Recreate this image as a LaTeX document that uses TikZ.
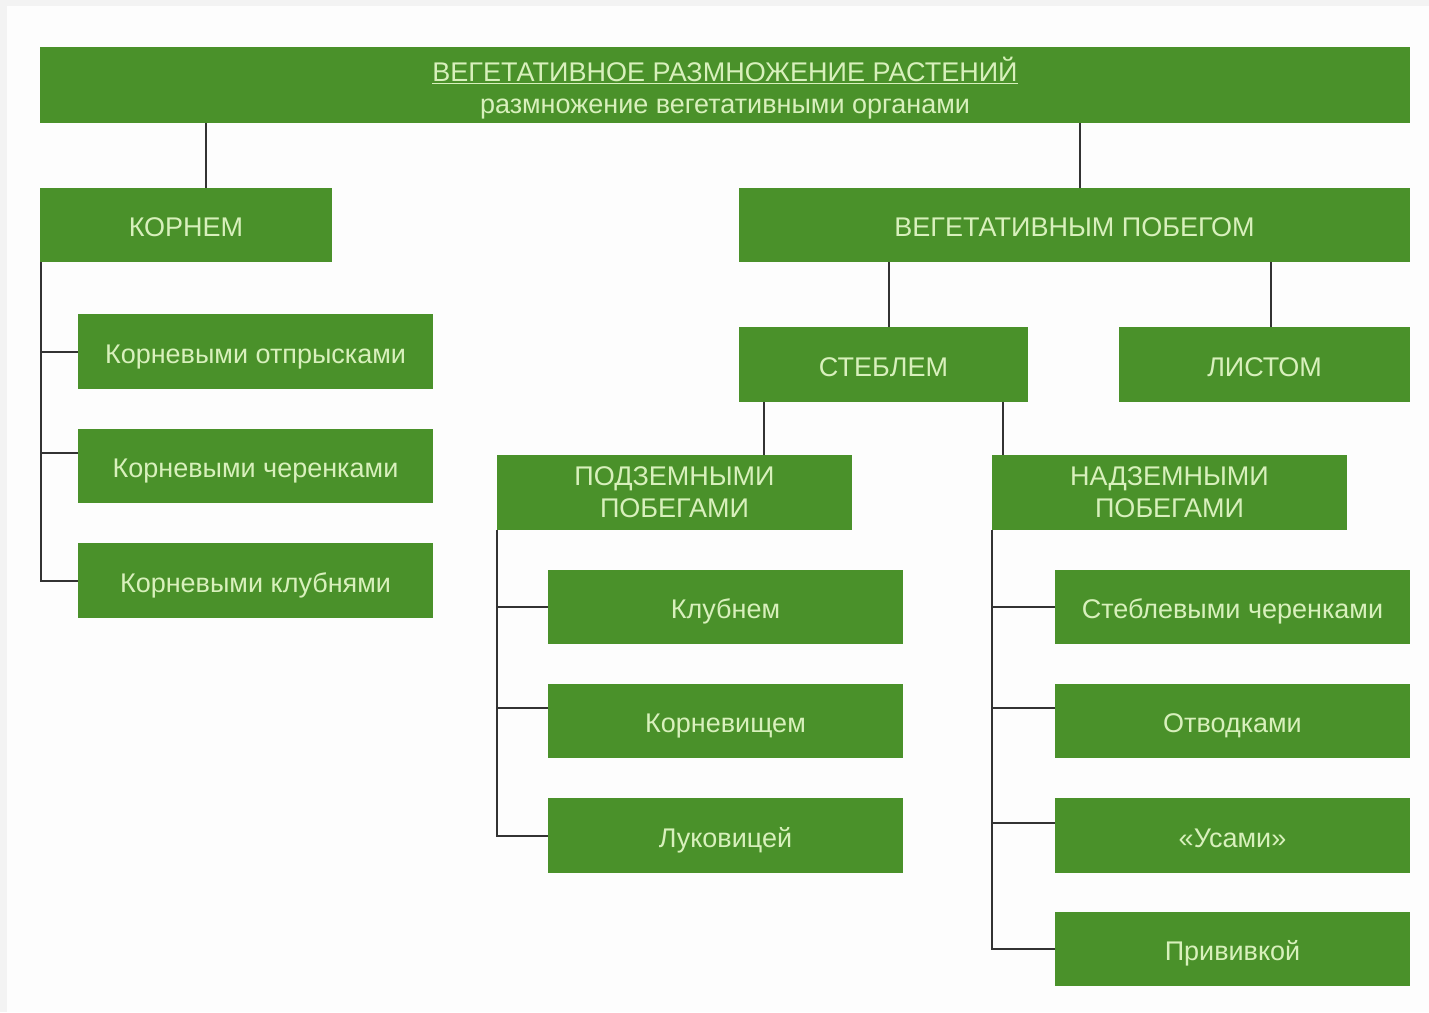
\documentclass[tikz,border=0pt]{standalone}
\usepackage{fontspec}
\setmainfont{Liberation Sans}
\usetikzlibrary{calc}
\definecolor{boxg}{RGB}{74,145,42}
\definecolor{txtg}{RGB}{216,240,188}
\definecolor{linec}{RGB}{51,51,51}
\definecolor{pageg}{RGB}{243,243,243}
\definecolor{innerw}{RGB}{253,253,253}
\begin{document}
\begin{tikzpicture}[x=1pt,y=-1pt,
  gbox/.style={fill=boxg, draw=none, inner sep=0pt, text=txtg,
    font=\fontsize{27}{32}\selectfont, align=center, text depth=0pt},
  oneline/.style={gbox, text height=23pt},
  conn/.style={draw=linec, line width=2pt}]
\fill[pageg] (0,0) rectangle (1429,1012);
\fill[innerw] (7,6) rectangle (1429,1012);
\useasboundingbox (0,0) rectangle (1429,1012);

\node[gbox, minimum width=1370pt, minimum height=76pt] (top) at (725,85)
  {\underline{ВЕГЕТАТИВНОЕ РАЗМНОЖЕНИЕ РАСТЕНИЙ}\\размножение вегетативными органами};
\node[oneline, minimum width=292pt, minimum height=74pt] (korn) at (186,225) {КОРНЕМ};
\node[oneline, minimum width=671pt, minimum height=74pt] (vp) at (1074.5,225) {ВЕГЕТАТИВНЫМ ПОБЕГОМ};
\node[oneline, minimum width=355pt, minimum height=75pt] (k1) at (255.5,351.5) {Корневыми отпрысками};
\node[oneline, minimum width=355pt, minimum height=74pt] (k2) at (255.5,466) {Корневыми черенками};
\node[oneline, minimum width=355pt, minimum height=75pt] (k3) at (255.5,580.5) {Корневыми клубнями};
\node[oneline, minimum width=289pt, minimum height=75pt] (steb) at (883.5,364.5) {СТЕБЛЕМ};
\node[oneline, minimum width=291pt, minimum height=75pt] (list) at (1264.5,364.5) {ЛИСТОМ};
\node[gbox, minimum width=355pt, minimum height=75pt] (podz) at (674.5,492.5) {ПОДЗЕМНЫМИ\\ПОБЕГАМИ};
\node[gbox, minimum width=355pt, minimum height=75pt] (nadz) at (1169.5,492.5) {НАДЗЕМНЫМИ\\ПОБЕГАМИ};
\node[oneline, minimum width=355pt, minimum height=74pt] (p1) at (725.5,607) {Клубнем};
\node[oneline, minimum width=355pt, minimum height=74pt] (p2) at (725.5,721) {Корневищем};
\node[oneline, minimum width=355pt, minimum height=75pt] (p3) at (725.5,835.5) {Луковицей};
\node[oneline, minimum width=355pt, minimum height=74pt] (n1) at (1232.5,607) {Стеблевыми черенками};
\node[oneline, minimum width=355pt, minimum height=74pt] (n2) at (1232.5,721) {Отводками};
\node[oneline, minimum width=355pt, minimum height=75pt] (n3) at (1232.5,835.5) {«Усами»};
\node[oneline, minimum width=355pt, minimum height=74pt] (n4) at (1232.5,949) {Прививкой};

% vertical links
\coordinate (c1) at ($(korn.north)+(20,0)$);
\draw[conn] (c1) -- (c1 |- top.south);
\coordinate (c2) at ($(vp.north)+(5.5,0)$);
\draw[conn] (c2) -- (c2 |- top.south);
\coordinate (c3) at ($(steb.north)+(5.5,0)$);
\draw[conn] (c3) -- (c3 |- vp.south);
\coordinate (c4) at ($(list.north)+(6.5,0)$);
\draw[conn] (c4) -- (c4 |- vp.south);
\coordinate (c5) at ($(podz.north)+(89.5,0)$);
\draw[conn] (c5) -- (c5 |- steb.south);
\coordinate (c6) at ($(nadz.north)+(-166.5,0)$);
\draw[conn] (c6) -- (c6 |- steb.south);

% root tree
\coordinate (kr) at ($(korn.south west)+(1,0)$);
\draw[conn] (kr) -- (kr |- k3.west) -- (k3.west);
\draw[conn] (k1.west) -- (k1.west -| kr);
\coordinate (k2b) at ($(k2.west)+(0,-13)$);
\draw[conn] (k2b) -- (k2b -| kr);

% underground tree
\coordinate (pr) at ($(podz.south west)+(0,0)$);
\draw[conn] (pr) -- (pr |- p3.west) -- (p3.west);
\draw[conn] (p1.west) -- (p1.west -| pr);
\coordinate (p2b) at ($(p2.west)+(0,-13)$);
\draw[conn] (p2b) -- (p2b -| pr);

% aboveground tree
\coordinate (nr) at ($(nadz.south west)+(0,0)$);
\draw[conn] (nr) -- (nr |- n4.west) -- (n4.west);
\draw[conn] (n1.west) -- (n1.west -| nr);
\coordinate (n2b) at ($(n2.west)+(0,-13)$);
\draw[conn] (n2b) -- (n2b -| nr);
\coordinate (n3b) at ($(n3.west)+(0,-12.5)$);
\draw[conn] (n3b) -- (n3b -| nr);
\end{tikzpicture}
\end{document}
